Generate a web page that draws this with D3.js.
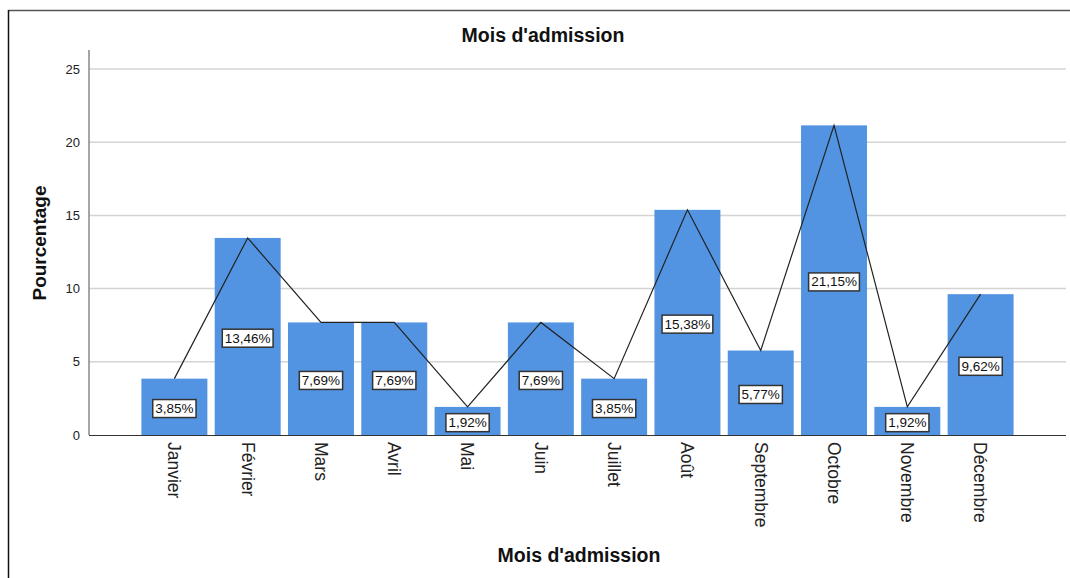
<!DOCTYPE html>
<html><head><meta charset="utf-8">
<script src="https://cdn.jsdelivr.net/npm/d3@7"></script>
<style>body{margin:0;background:#fff;font-family:"Liberation Sans",Arial,sans-serif;}</style>
</head><body>
<svg id="c" width="1070" height="578"></svg>
<script>
const months = ["Janvier","Février","Mars","Avril","Mai","Juin","Juillet","Août","Septembre","Octobre","Novembre","Décembre"];
const percents = [3.85,13.46,7.69,7.69,1.92,7.69,3.85,15.38,5.77,21.15,1.92,9.62];
const yTicks = [0,5,10,15,20,25];

const svg = d3.select("#c");
const L = 89, R = 1066, T = 50, B = 435;

// frame
svg.append("line").attr("x1",8.5).attr("x2",1070).attr("y1",10.5).attr("y2",10.5).attr("stroke","#555").attr("stroke-width",1.5);
svg.append("line").attr("x1",8.5).attr("x2",8.5).attr("y1",10).attr("y2",578).attr("stroke","#111").attr("stroke-width",1.5);

const x = d3.scaleBand().domain(months).range([L,R]).paddingInner(0.1).paddingOuter(0.715);
const y = d3.scaleLinear().domain([0,25]).range([B,69]);

// grid
svg.append("g").selectAll("line").data(yTicks.filter(d=>d>0)).join("line")
  .attr("x1",L).attr("x2",R).attr("y1",d=>y(d)).attr("y2",d=>y(d))
  .attr("stroke","#d4d4d4").attr("stroke-width",1.5);

// bars
svg.append("g").selectAll("rect").data(percents).join("rect")
  .attr("x",(d,i)=>x(months[i])).attr("width",x.bandwidth())
  .attr("y",d=>y(d)).attr("height",d=>B-y(d))
  .attr("fill","#5294e2");

// axes
const yAxis = svg.append("g").attr("transform",`translate(${L},0)`)
  .call(d3.axisLeft(y).tickValues(yTicks).tickSize(0).tickPadding(9));
yAxis.select(".domain").remove();
yAxis.selectAll("text").attr("font-size",13).attr("fill","#222").attr("font-family","Liberation Sans, Arial, sans-serif");
svg.append("line").attr("x1",L).attr("x2",L).attr("y1",T).attr("y2",B).attr("stroke","#888").attr("stroke-width",1.5);

svg.append("line").attr("x1",L).attr("x2",R).attr("y1",B+0.5).attr("y2",B+0.5).attr("stroke","#333").attr("stroke-width",1.2);

const xAxis = svg.append("g").attr("transform",`translate(0,${B})`)
  .call(d3.axisBottom(x).tickSize(0).tickPadding(0));
xAxis.select(".domain").remove();
xAxis.selectAll("text")
  .attr("font-size",17.5).attr("fill","#222").attr("font-family","Liberation Sans, Arial, sans-serif")
  .attr("text-anchor","start").attr("dy","0.35em")
  .attr("transform","translate(0,7) rotate(90)").attr("x",0).attr("y",0);

// line
const line = d3.line().x((d,i)=>x(months[i])+x.bandwidth()/2).y(d=>y(d));
svg.append("path").datum(percents).attr("d",line).attr("fill","none").attr("stroke","#222").attr("stroke-width",1.2);

// labels
const fmt = d => d.toFixed(2).replace(".",",")+"%";
const lg = svg.append("g").selectAll("g").data(percents).join("g")
  .attr("transform",(d,i)=>`translate(${x(months[i])+x.bandwidth()/2},${y(d/2)+1.5})`);
lg.append("text").text(fmt).attr("text-anchor","middle").attr("dy","0.35em")
  .attr("font-size",13.5).attr("fill","#111").attr("font-family","Liberation Sans, Arial, sans-serif")
  .each(function(){
    const b = this.getBBox();
    d3.select(this.parentNode).insert("rect","text")
      .attr("x",b.x-2.5).attr("y",b.y-1.5).attr("width",b.width+5).attr("height",b.height+3)
      .attr("fill","#fff").attr("stroke","#333").attr("stroke-width",1.5);
  });

// titles
svg.append("text").text("Mois d'admission").attr("x",543).attr("y",42).attr("text-anchor","middle")
  .attr("font-size",19.5).attr("font-weight","bold").attr("fill","#111");
svg.append("text").text("Mois d'admission").attr("x",579).attr("y",562).attr("text-anchor","middle")
  .attr("font-size",19.5).attr("font-weight","bold").attr("fill","#111");
svg.append("text").text("Pourcentage").attr("transform","translate(46,243) rotate(-90)").attr("text-anchor","middle")
  .attr("font-size",19).attr("font-weight","bold").attr("fill","#111");
</script>
</body></html>
